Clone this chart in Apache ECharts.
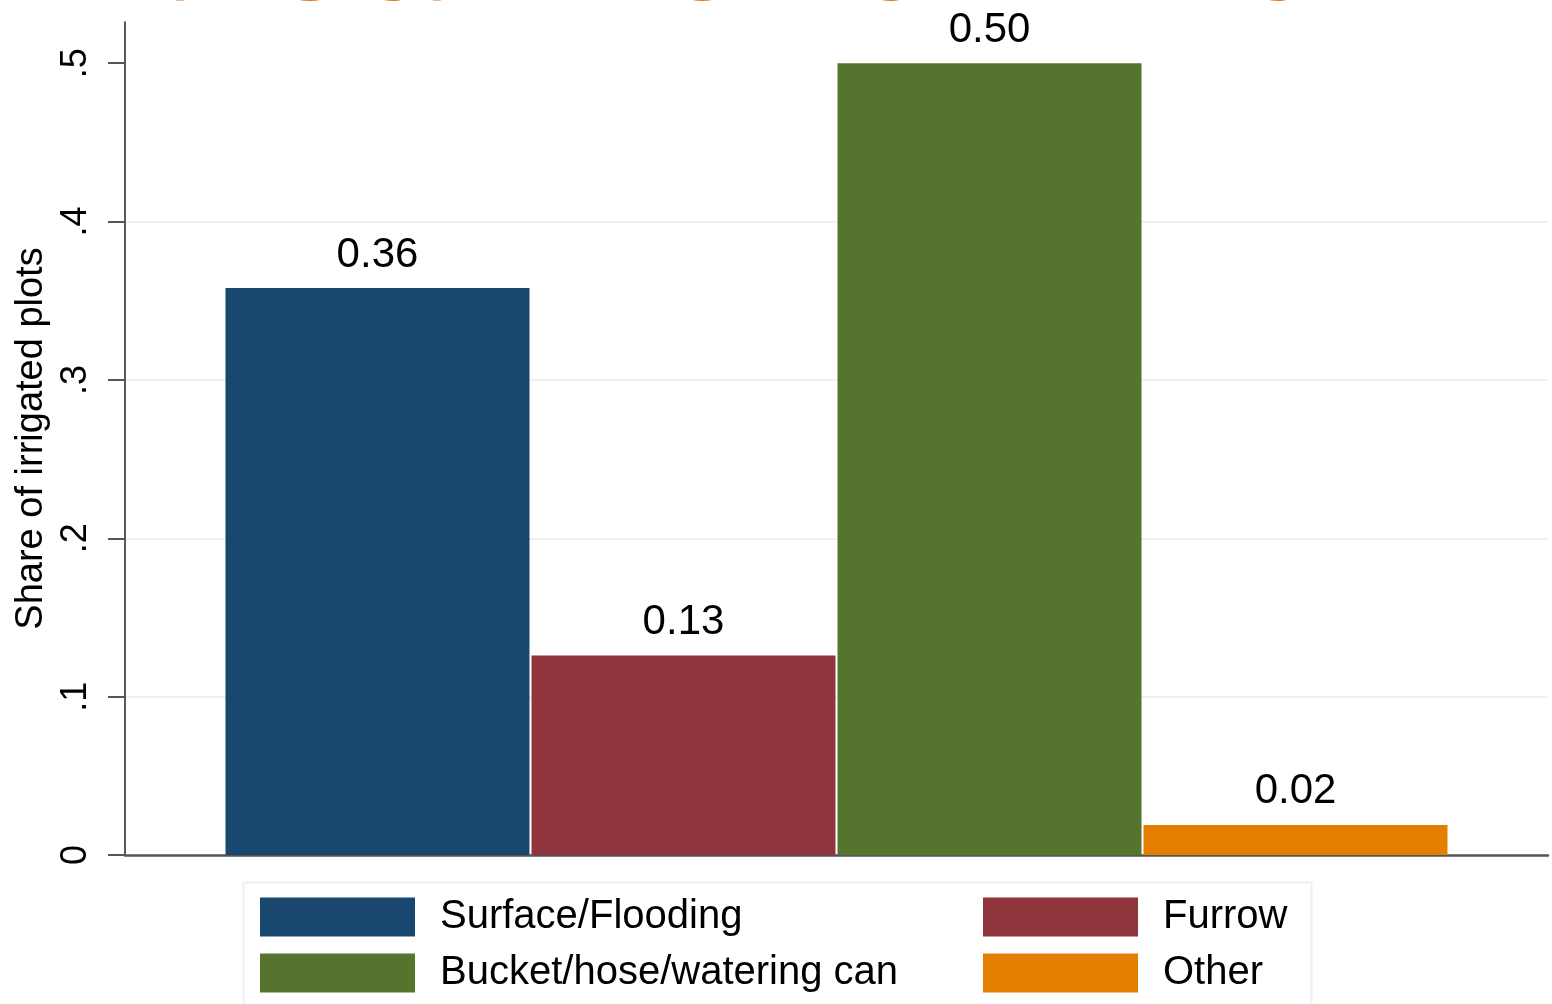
<!DOCTYPE html>
<html>
<head>
<meta charset="utf-8">
<script src="https://cdn.jsdelivr.net/npm/echarts@6/dist/echarts.min.js"></script>
<style>
  html, body { margin: 0; padding: 0; background: #ffffff; }
  #chart { width: 1552px; height: 1004px; }
</style>
</head>
<body>
<div id="chart"></div>
<script>
// ---- data ----
const titleText = 'TYPES OF IRRIGATION METHOD';
const categories = [''];
const seriesNames = ['Surface/Flooding', 'Furrow', 'Bucket/hose/watering can', 'Other'];
const surfaceValues = [0.358];
const furrowValues = [0.126];
const bucketValues = [0.500];
const otherValues = [0.019];
const yTickValues = [0, 0.1, 0.2, 0.3, 0.4, 0.5];
const yTickLabels = ['0', '.1', '.2', '.3', '.4', '.5'];
const yAxisTitle = 'Share of irrigated plots';

// ---- styling ----
const colors = ['#1a476f', '#90353b', '#55752f', '#e37e00'];
const FONT = '"Liberation Sans", Arial, sans-serif';

const chart = echarts.init(document.getElementById('chart'), null, { renderer: 'canvas' });

const valueLists = [surfaceValues, furrowValues, bucketValues, otherValues];

const series = seriesNames.map((name, i) => ({
  name: name,
  type: 'bar',
  data: valueLists[i],
  barWidth: 304,
  barGap: '0.66%',
  itemStyle: { color: colors[i] },
  label: {
    show: true,
    position: 'top',
    distance: 12,
    fontFamily: FONT,
    fontSize: 42,
    color: '#000000',
    formatter: (p) => p.value.toFixed(2)
  },
  emphasis: { disabled: true },
  animation: false
}));

const legendCommon = {
  orient: 'vertical',
  padding: 0,
  itemWidth: 155,
  itemHeight: 39,
  itemGap: 16,
  icon: 'rect',
  selectedMode: false,
  textStyle: {
    fontFamily: FONT,
    fontSize: 40,
    color: '#000000',
    lineHeight: 35,
    padding: [4, 0, 0, 20]
  }
};

const option = {
  backgroundColor: '#ffffff',
  animation: false,
  title: {
    text: titleText,
    left: 62,
    top: -65,
    padding: 0,
    textStyle: {
      fontFamily: FONT,
      fontSize: 84,
      fontWeight: 'normal',
      color: '#e3791b'
    }
  },
  grid: { left: 125, right: 4, top: 22, bottom: 149, containLabel: false },
  xAxis: {
    type: 'category',
    data: categories,
    axisLine: { show: true, lineStyle: { color: '#555555', width: 2.5 } },
    axisTick: { show: false },
    axisLabel: { show: false },
    splitLine: { show: false }
  },
  yAxis: {
    type: 'value',
    min: 0,
    max: 0.526,
    interval: 0.1,
    name: yAxisTitle,
    nameLocation: 'middle',
    nameGap: 66,
    nameTextStyle: { fontFamily: FONT, fontSize: 38, color: '#000000' },
    axisLine: { show: true, lineStyle: { color: '#222222', width: 1.5 } },
    axisTick: {
      show: true,
      length: 17,
      customValues: yTickValues,
      lineStyle: { color: '#555555', width: 2 }
    },
    axisLabel: {
      show: true,
      rotate: 90,
      margin: 31,
      customValues: yTickValues,
      fontFamily: FONT,
      fontSize: 36,
      color: '#000000',
      formatter: (v) => yTickLabels[Math.round(v * 10)]
    },
    splitLine: {
      show: true,
      showMinLine: false,
      showMaxLine: false,
      lineStyle: { color: '#eaf2f3', width: 2 }
    }
  },
  legend: [
    Object.assign({}, legendCommon, { left: 260, top: 897, data: [seriesNames[0], seriesNames[2]] }),
    Object.assign({}, legendCommon, { left: 983, top: 897, data: [seriesNames[1], seriesNames[3]] })
  ],
  graphic: [
    {
      type: 'rect',
      silent: true,
      z: -1,
      shape: { x: 243.5, y: 882.5, width: 1068, height: 140 },
      style: { fill: 'none', stroke: '#eaf2f3', lineWidth: 2 }
    }
  ],
  series: series
};

chart.setOption(option);
</script>
</body>
</html>
